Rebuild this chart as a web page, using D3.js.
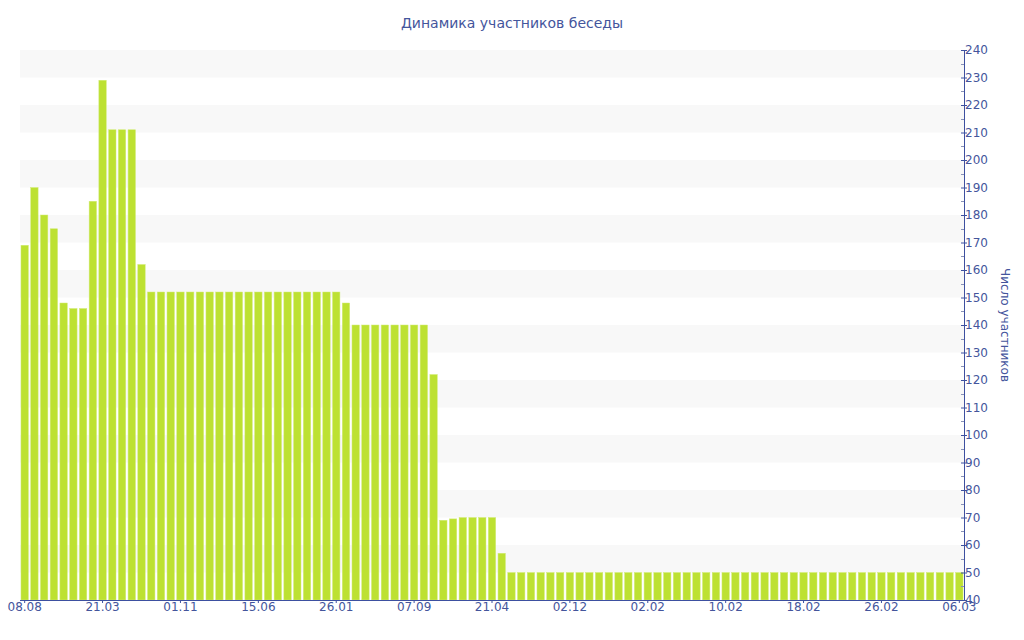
<!DOCTYPE html>
<html><head><meta charset="utf-8">
<script src="https://cdn.jsdelivr.net/npm/d3@7"></script>
<style>body{margin:0;background:#fff}svg{display:block}text{font-family:"DejaVu Sans",Verdana,sans-serif}</style>
</head><body>
<svg id="c" width="1024" height="640"></svg>
<script>
const title = "Динамика участников беседы";
const yTitle = "Число участников";
const values = [
  169,190,180,175,148,146,146,185,229,211,211,211,162,
  152,152,152,152,152,152,152,152,152,152,152,152,152,152,152,152,152,152,152,152,
  148,
  140,140,140,140,140,140,140,140,
  122,69,69.5,70,70,70,70,57,
  50,50,50,50,50,50,50,50,50,50,50,50,50,50,50,50,50,50,50,50,50,50,50,50,
  50,50,50,50,50,50,50,50,50,50,50,50,50,50,50,50,50,50,50,50,50,50,50
];
const tickLabels = ["08.08","21.03","01.11","15.06","26.01","07.09","21.04","02.12","02.02","10.02","18.02","26.02","06.03"];
const tickEvery = 8;
const yTicks = d3.range(40, 241, 10);

const svg = d3.select("#c");
const L = 20, R = 964, T = 50, B = 600;
const axisColor = "#3d50a0", textColor = "#44559c";

const x = d3.scaleBand().domain(d3.range(values.length)).range([L, R]).paddingInner(0.24).paddingOuter(0.1);
const y = d3.scaleLinear().domain([40, 240]).range([B, T]);

// stripes
const stripes = d3.range(50, 240, 20);
svg.append("g").selectAll("rect").data(stripes).join("rect")
  .attr("x", L).attr("width", R - L)
  .attr("y", d => y(d + 10)).attr("height", d => y(d) - y(d + 10))
  .attr("fill", "#f8f8f8");

// bars
svg.append("g").selectAll("rect").data(values).join("rect")
  .attr("x", (d, i) => x(i)).attr("width", x.bandwidth())
  .attr("y", d => y(d)).attr("height", d => B - y(d))
  .attr("fill", "#bde132").attr("stroke", "#d2eb78").attr("stroke-width", 0.5);

// x axis
const tickIdx = tickLabels.map((t, i) => i * tickEvery);
const xAxis = d3.axisBottom(x).tickValues(tickIdx)
  .tickFormat((d) => tickLabels[d / tickEvery]).tickSize(3).tickSizeOuter(0);
const gx = svg.append("g").attr("transform", `translate(0,${B})`).call(xAxis);
gx.select(".domain").attr("stroke", axisColor).attr("d", `M${L},0.5H${R}`);
gx.selectAll(".tick line").attr("stroke", axisColor);
gx.selectAll(".tick text").attr("fill", textColor).attr("font-size", 12)
  .attr("font-family", "DejaVu Sans, Verdana, sans-serif").attr("dy", "0.66em").attr("y", 3);

// y axis right: minor ticks
const minor = d3.range(45, 240, 10);
svg.append("g").selectAll("line").data(minor).join("line")
  .attr("x1", R - 3).attr("x2", R).attr("y1", d => Math.round(y(d)) + 0.5).attr("y2", d => Math.round(y(d)) + 0.5)
  .attr("stroke", "#8a93b8");
const yAxis = d3.axisRight(y).tickValues(yTicks).tickFormat(d3.format("d")).tickSize(3).tickSizeOuter(0);
const gy = svg.append("g").attr("transform", `translate(${R},0)`).call(yAxis);
gy.select(".domain").attr("stroke", axisColor);
gy.selectAll(".tick line").attr("stroke", axisColor).attr("x1", -3);
gy.selectAll(".tick text").attr("fill", textColor).attr("font-size", 12)
  .attr("font-family", "DejaVu Sans, Verdana, sans-serif").attr("x", 1);

// title
svg.append("text").attr("x", 512).attr("y", 28).attr("text-anchor", "middle")
  .attr("fill", textColor).attr("font-size", 14).text(title);
// y title
svg.append("text").attr("transform", `translate(1001,${(T + B) / 2}) rotate(90)`)
  .attr("text-anchor", "middle").attr("fill", textColor).attr("font-size", 12).text(yTitle);
</script>
</body></html>
